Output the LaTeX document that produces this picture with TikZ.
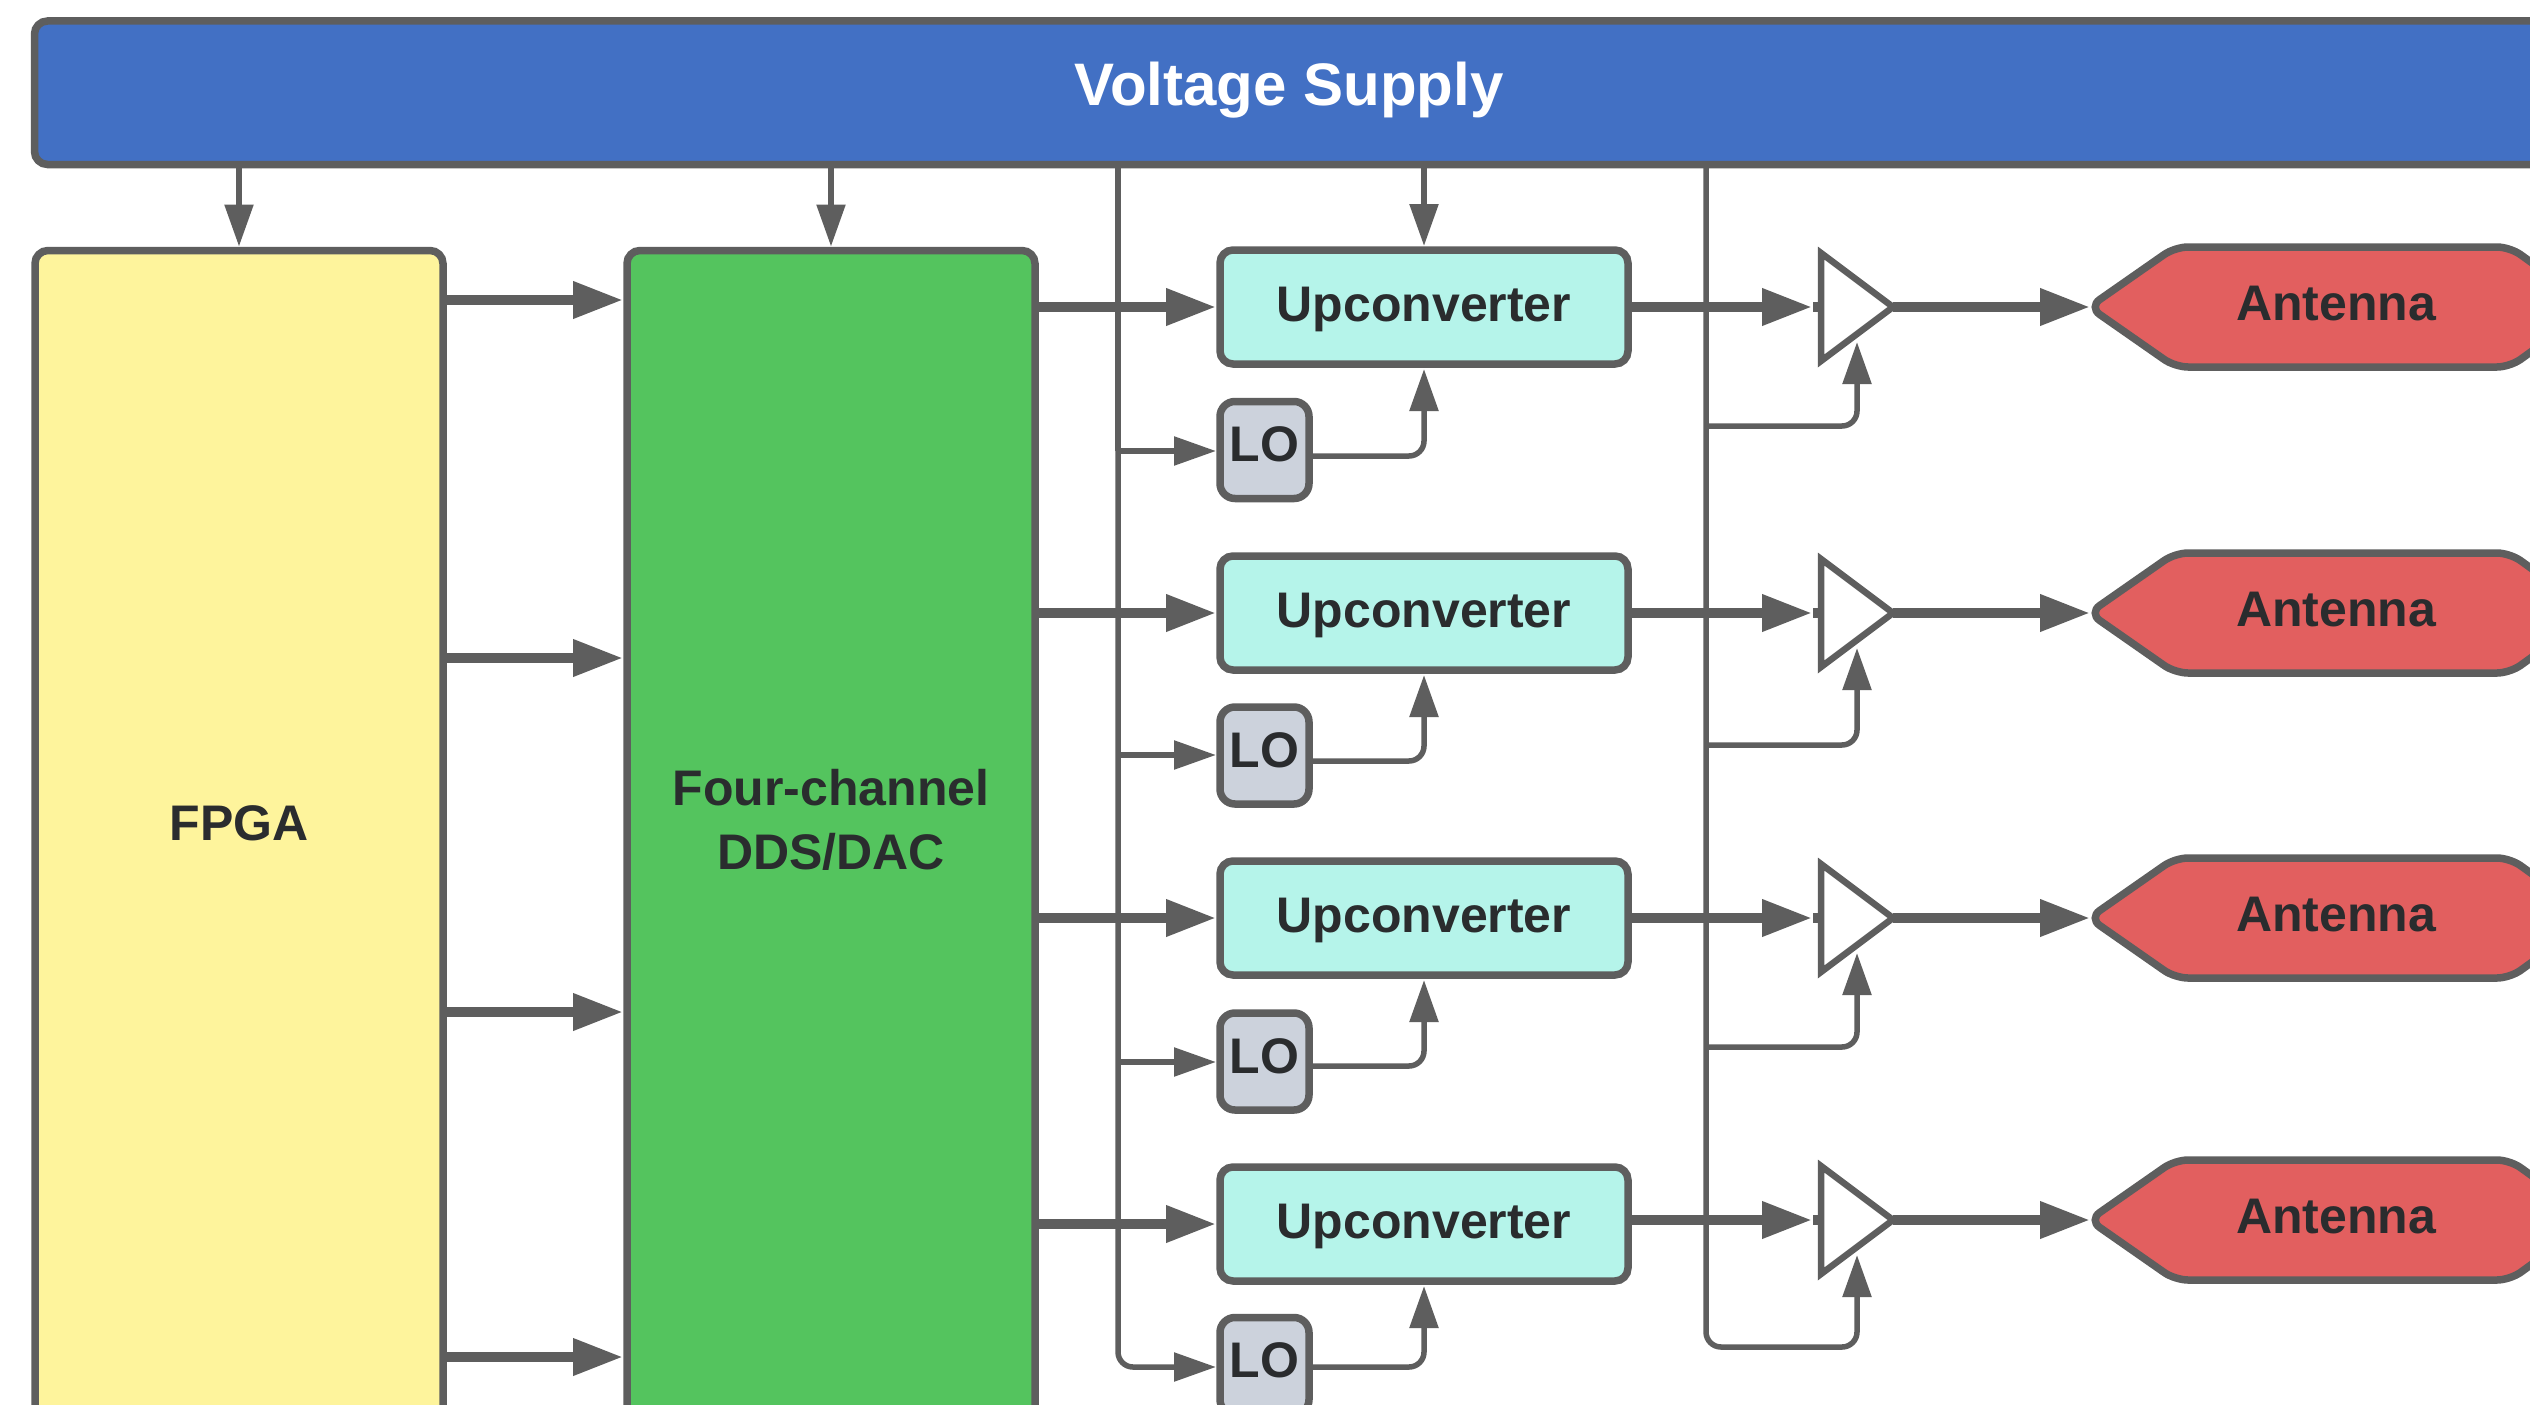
\documentclass[tikz,border=0pt]{standalone}
\usepackage{fontspec}
\setmainfont{Liberation Sans}
\usetikzlibrary{arrows.meta,calc}
\definecolor{edgegray}{HTML}{5E5E5E}
\definecolor{inktext}{HTML}{2A2C2E}
\definecolor{supplyblue}{HTML}{4270C4}
\definecolor{fpgayellow}{HTML}{FEF49C}
\definecolor{ddsgreen}{HTML}{54C45E}
\definecolor{upmint}{HTML}{B5F4EA}
\definecolor{logray}{HTML}{CCD2DC}
\definecolor{antred}{HTML}{E25F5F}
\tikzset{
  x=1pt,y=-1pt,
  boxbase/.style={draw=edgegray,line width=7.5pt,rounded corners=13pt,inner sep=0pt,outer sep=0pt,
    font=\fontsize{50}{60}\selectfont\bfseries,text=inktext},
  supplybox/.style={boxbase,fill=supplyblue,minimum width=2800pt,minimum height=143.5pt},
  tallbox/.style={boxbase,minimum width=408pt,minimum height=1249pt},
  upbox/.style={boxbase,fill=upmint,minimum width=408pt,minimum height=114pt,text height=36pt,text depth=8pt},
  lobox/.style={boxbase,fill=logray,rounded corners=15pt,minimum width=89pt,minimum height=97pt,text height=36pt,text depth=13pt},
  ampshape/.style={draw=edgegray,line width=6.5pt,fill=white,miter limit=10},
  antshape/.style={draw=edgegray,line width=7.5pt,fill=antred,rounded corners=13pt},
  labeltext/.style={inner sep=0pt,outer sep=0pt,anchor=base,font=\fontsize{50}{64}\selectfont\bfseries,text=inktext},
  heavyarrow/.style={draw=edgegray,line width=10pt,-{Triangle[length=50pt,width=35pt]},shorten >=4pt},
  thinarrow/.style={draw=edgegray,line width=5.5pt,-{Triangle[length=42pt,width=28pt]},rounded corners=15pt,shorten >=4pt},
  busline/.style={draw=edgegray,line width=5.5pt},
}
\begin{document}
\begin{tikzpicture}
\useasboundingbox (0,0) rectangle (2530,1405);
\clip (0,0) rectangle (2530,1405);
\fill[white] (0,0) rectangle (2530,1405);

\node[supplybox,anchor=north west] (vs) at (34.5,21) {};
\node[inner sep=0pt,outer sep=0pt,anchor=base,font=\fontsize{60}{70}\selectfont\bfseries,text=white] (vstext) at (1289,105) {Voltage Supply};

\node[tallbox,fill=fpgayellow,anchor=north] (fpga) at (239,250.5) {};
\node[tallbox,fill=ddsgreen,anchor=north] (dds) at (831,250.5) {};
\node[labeltext] (fpgatext) at (239,840) {FPGA};
\node[labeltext,anchor=center,align=center] (ddstext) at (831,820) {Four-channel\\DDS/DAC};

\coordinate (busa) at (1118,164.5);
\coordinate (busb) at (1706,164.5);

% supply rails (the last branch of each is drawn with the row 4 connectors)
\draw[thinarrow] (vs.south -| fpga.north) -- (fpga.north);
\draw[thinarrow] (vs.south -| dds.north) -- (dds.north);

% FPGA to DDS links
\foreach \nn/\ly in {1/300,2/658,3/1012,4/1357}{
  \coordinate (fp\nn) at (443,\ly);
  \draw[heavyarrow] (fp\nn) -- (fp\nn -| dds.west);
}

\foreach \nn/\upy/\loy/\liny/\louty/\biasy/\outy in
  {1/307/450/451/456/426/307, 2/613/755.5/755/761/745/613, 3/918/1061.5/1062/1066/1047/918, 4/1224/1366/1367/1367/1347/1220}{
  \node[upbox] (up\nn) at (1424,\upy) {Upconverter};
  \node[lobox] (lo\nn) at (1264.5,\loy) {LO};
  % amplifier
  \coordinate (ampw\nn) at (1821,\outy);
  \coordinate (ampe\nn) at (1893,\outy);
  \coordinate (ampb\nn) at (1857,\outy+35);
  \coordinate (ant\nn) at (2089,\outy);
  \coordinate (lin\nn) at (1220,\liny);
  \coordinate (lout\nn) at (1309,\louty);
  \coordinate (bias\nn) at (1706,\biasy);
  % connectors
  \draw[heavyarrow] (dds.east |- up\nn.west) -- (up\nn.west);
  \draw[heavyarrow,shorten >=9pt] (up\nn.east |- ampw\nn) -- (ampw\nn);
  \draw[draw=edgegray,line width=10pt] (1813,\outy) -- (ampw\nn);
  \draw[heavyarrow,shorten >=-1pt] (ampe\nn) -- (ant\nn);
  \draw[thinarrow,shorten >=5pt] (lout\nn) -| (up\nn.south);
  \draw[ampshape] (ampw\nn) ++(0,-54) -- (ampe\nn) -- ++(-72,54) -- cycle;
  % antenna
  \draw[antshape] (ant\nn) -- ++(86,-60) -- ++(335,0) -- ++(83,60) -- ++(-83,60) -- ++(-335,0) -- cycle;
  \node[labeltext] (anttext\nn) at (2336,\outy+13) {Antenna};
}

% rails with their branches
\draw[busline] (vs.south -| busa) -- ($(lin1 -| busa)$);
\foreach \nn in {1,2,3}{
  \draw[thinarrow] (lin\nn -| busa) -- (lin\nn);
  \draw[thinarrow,shorten >=0pt] (bias\nn) -| (ampb\nn);
}
\draw[thinarrow] (vs.south -| busa) |- (lin4);
\draw[thinarrow,shorten >=0pt] (vs.south -| busb) |- (bias4 -| ampb4) -- (ampb4);
\draw[thinarrow] (vs.south -| up1.north) -- (up1.north);
\end{tikzpicture}
\end{document}
